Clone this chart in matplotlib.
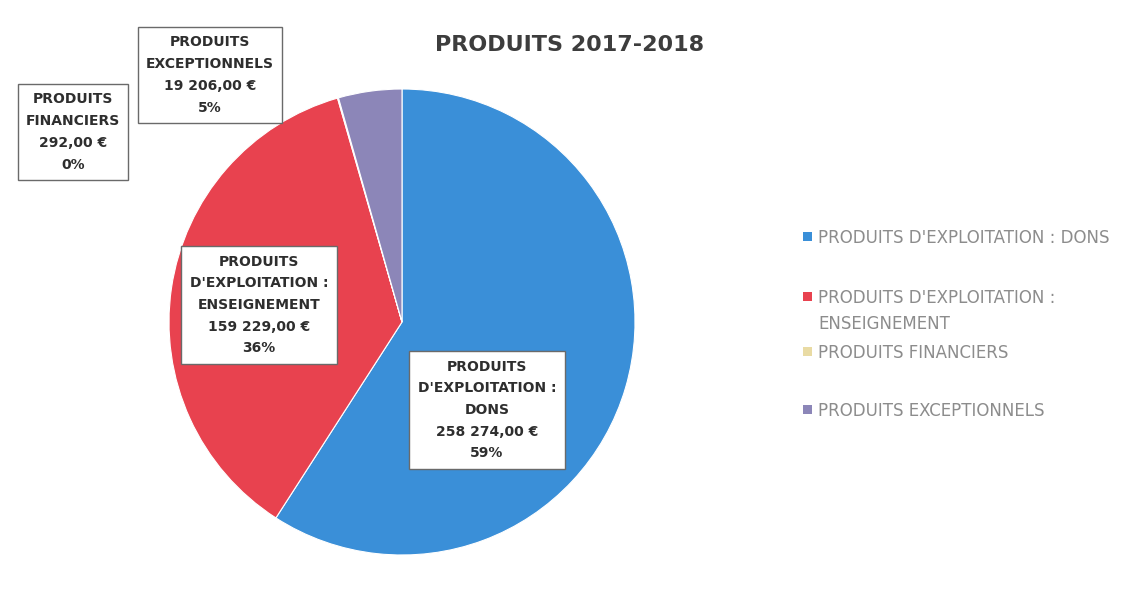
import matplotlib
matplotlib.use("Agg")
import matplotlib.pyplot as plt
from matplotlib.patches import Rectangle

categories = ["PRODUITS D'EXPLOITATION : DONS",
              "PRODUITS D'EXPLOITATION : ENSEIGNEMENT",
              "PRODUITS FINANCIERS",
              "PRODUITS EXCEPTIONNELS"]
values = [258274.00, 159229.00, 292.00, 19206.00]
value_labels = ["258 274,00 €", "159 229,00 €", "292,00 €", "19 206,00 €"]
pct_labels = ["59%", "36%", "0%", "5%"]
legend_labels = ["PRODUITS D'EXPLOITATION : DONS",
                 "PRODUITS D'EXPLOITATION :\nENSEIGNEMENT",
                 "PRODUITS FINANCIERS",
                 "PRODUITS EXCEPTIONNELS"]
box_labels = ["PRODUITS\nD'EXPLOITATION :\nDONS",
              "PRODUITS\nD'EXPLOITATION :\nENSEIGNEMENT",
              "PRODUITS\nFINANCIERS",
              "PRODUITS\nEXCEPTIONNELS"]
colors = ["#3a8fd8", "#e8424f", "#e9dba4", "#8c86b8"]

W, H = 1123, 603
fig = plt.figure(figsize=(W / 100, H / 100), dpi=100)
fig.patch.set_facecolor("white")

cx, cy, r = 402, 322, 233
ax = fig.add_axes([(cx - r) / W, (H - cy - r) / H, 2 * r / W, 2 * r / H])
wedges, _ = ax.pie(values, colors=colors, startangle=90, counterclock=False,
                   radius=1.0, wedgeprops=dict(edgecolor="white", linewidth=0.8))
ax.set_xlim(-1, 1)
ax.set_ylim(-1, 1)
ax.set_aspect("equal")
ax.axis("off")

fig.text(570 / W, 1 - 45 / H, "PRODUITS 2017-2018", ha="center", va="center",
         fontsize=16, fontweight="bold", color="#3d3d3d")

# data label boxes (pixel centres)
box_pos = [(487, 410), (259, 305), (73, 132), (210, 75)]
for i in range(4):
    x, y = box_pos[i]
    txt = box_labels[i] + "\n" + value_labels[i] + "\n" + pct_labels[i]
    fig.text(x / W, 1 - y / H, txt, ha="center", va="center", fontsize=10,
             fontweight="bold", color="#2e2e2e", linespacing=1.7,
             bbox=dict(boxstyle="square,pad=0.6", facecolor="white",
                       edgecolor="#6a6a6a", linewidth=1.0))

# legend
leg_y = [237, 297, 352, 410]
for i in range(4):
    y = leg_y[i]
    fig.patches.append(Rectangle((803 / W, 1 - (y + 4) / H), 9 / W, 9 / H,
                                 transform=fig.transFigure, facecolor=colors[i],
                                 edgecolor="none"))
    fig.text(818 / W, 1 - (y - 8) / H, legend_labels[i], ha="left", va="top",
             fontsize=12, color="#8c8c8c", linespacing=1.55)

fig.savefig("out.png", dpi=100, facecolor="white")
